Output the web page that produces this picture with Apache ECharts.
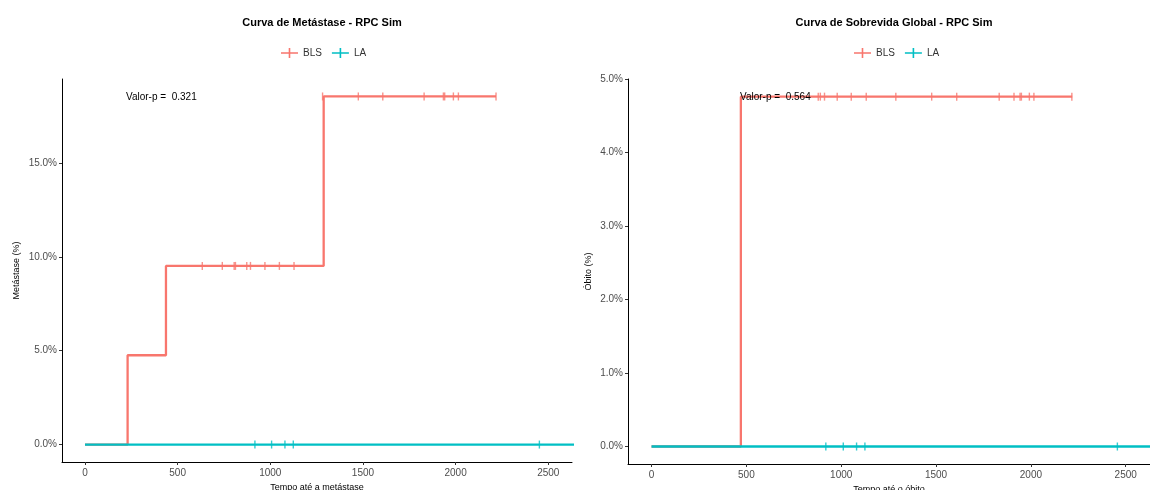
<!DOCTYPE html>
<html>
<head>
<meta charset="utf-8">
<script src="https://cdn.jsdelivr.net/npm/echarts@6/dist/echarts.min.js"></script>
<style>html,body{margin:0;padding:0;background:#fff}#c{width:1150px;height:490px}</style>
</head>
<body>
<div id="c"></div>
<script>
// ---- Data (times in days, values in %) ----
var xTicks = [0, 500, 1000, 1500, 2000, 2500];
var metYTicks = [0, 5, 10, 15];
var osYTicks = [0, 1, 2, 3, 4, 5];

// Metástase
var metBlsTimes = [0, 230, 437, 1288, 2218];
var metBlsValues = [0, 4.76, 9.52, 18.55, 18.55];
var metBlsCensorTimes = [633, 741, 805, 812, 873, 893, 971, 1049, 1128, 1282, 1475, 1607, 1830, 1934, 1941, 1988, 2015, 2218];
var metBlsCensorValues = [9.52, 9.52, 9.52, 9.52, 9.52, 9.52, 9.52, 9.52, 9.52, 18.55, 18.55, 18.55, 18.55, 18.55, 18.55, 18.55, 18.55, 18.55];
var metLaTimes = [0, 2640];
var metLaValues = [0, 0];
var metLaCensorTimes = [917, 1007, 1079, 1124, 2452];

// Sobrevida global
var osBlsTimes = [0, 471, 2218];
var osBlsValues = [0, 4.76, 4.76];
var osBlsCensorTimes = [879, 890, 912, 979, 1053, 1132, 1288, 1477, 1609, 1833, 1911, 1943, 1950, 1992, 2016, 2216];
var osLaTimes = [0, 2640];
var osLaValues = [0, 0];
var osLaCensorTimes = [919, 1011, 1081, 1125, 2456];

var pMet = 'Valor-p =  0.321';
var pOs = 'Valor-p =  0.564';

var RED = '#F8766D', TEAL = '#00BFC4';

function stepPts(times, vals) {
  var out = [];
  for (var i = 0; i < times.length; i++) {
    if (i > 0) out.push([times[i], vals[i - 1]]);
    out.push([times[i], vals[i]]);
  }
  return out;
}
function censorPts(times, vals, constVal) {
  return times.map(function (t, i) { return [t, vals ? vals[i] : constVal]; });
}

var plusIcon = 'path://M0,4.2 L17,4.2 L17,5.8 L0,5.8 Z M7.7,0 L9.3,0 L9.3,10 L7.7,10 Z';

function xAxisCfg(gi, name) {
  return {
    type: 'value', gridIndex: gi, min: -124, max: 2628,
    name: name, nameLocation: 'middle', nameGap: 19,
    nameTextStyle: { fontFamily: 'Liberation Sans', fontSize: 9, color: '#000' },
    splitLine: { show: false },
    axisLine: { show: true, onZero: false, lineStyle: { color: '#000', width: 1 } },
    axisTick: { show: true, length: 3, lineStyle: { color: '#333' }, customValues: xTicks },
    axisLabel: { fontFamily: 'Liberation Sans', fontSize: 10, color: '#4D4D4D', margin: 6, customValues: xTicks,
      formatter: function (v) { return String(v); } }
  };
}
function yAxisCfg(gi, name, min, max, ticks, gap) {
  return {
    type: 'value', gridIndex: gi, min: min, max: max,
    name: name, nameLocation: 'middle', nameGap: gap,
    nameTextStyle: { fontFamily: 'Liberation Sans', fontSize: 9, color: '#000' },
    splitLine: { show: false },
    axisLine: { show: true, onZero: false, lineStyle: { color: '#000', width: 1 } },
    axisTick: { show: true, length: 3, lineStyle: { color: '#333' }, customValues: ticks },
    axisLabel: { fontFamily: 'Liberation Sans', fontSize: 10, color: '#4D4D4D', margin: 5,
      customValues: ticks, formatter: function (v) { return v.toFixed(1) + '%'; } }
  };
}
function lineS(name, gi, data, color, z) {
  return { name: name, type: 'line', xAxisIndex: gi, yAxisIndex: gi, data: data,
    showSymbol: false, symbol: 'none', lineStyle: { color: color, width: 2.3 }, itemStyle: { color: color },
    z: z, animation: false, clip: true };
}
function censS(name, gi, data, color, z) {
  return { name: name, type: 'scatter', xAxisIndex: gi, yAxisIndex: gi, data: data,
    symbol: 'rect', symbolSize: [1.4, 8], itemStyle: { color: color }, z: z, animation: false, silent: true };
}

var option = {
  backgroundColor: '#fff',
  animation: false,
  title: [
    { text: 'Curva de Metástase - RPC Sim', left: 317, top: 12, textAlign: 'center',
      textStyle: { fontFamily: 'Liberation Sans', fontSize: 11, fontWeight: 'bold', color: '#000' } },
    { text: 'Curva de Sobrevida Global - RPC Sim', left: 889, top: 12, textAlign: 'center',
      textStyle: { fontFamily: 'Liberation Sans', fontSize: 11, fontWeight: 'bold', color: '#000' } }
  ],
  legend: [
    { data: [{ name: 'BLS', icon: plusIcon }, { name: 'LA', icon: plusIcon }], left: 276, top: 43,
      itemWidth: 17, itemHeight: 10, itemGap: 10, textStyle: { fontFamily: 'Liberation Sans', fontSize: 10, color: '#333' } },
    { data: [{ name: 'BLS', icon: plusIcon }, { name: 'LA', icon: plusIcon }], left: 849, top: 43,
      itemWidth: 17, itemHeight: 10, itemGap: 10, textStyle: { fontFamily: 'Liberation Sans', fontSize: 10, color: '#333' } }
  ],
  grid: [
    { left: 62, top: 79, width: 510, height: 383, containLabel: false, outerBoundsMode: 'none' },
    { left: 628, top: 79, width: 522, height: 385, containLabel: false, outerBoundsMode: 'none' }
  ],
  xAxis: [xAxisCfg(0, 'Tempo até a metástase'), xAxisCfg(1, 'Tempo até o óbito')],
  yAxis: [
    yAxisCfg(0, 'Metástase (%)', -0.93, 19.48, metYTicks, 41),
    yAxisCfg(1, 'Óbito (%)', -0.238, 5.0, osYTicks, 35)
  ],
  series: [
    lineS('BLS', 0, stepPts(metBlsTimes, metBlsValues), RED, 2),
    censS('BLS', 0, censorPts(metBlsCensorTimes, metBlsCensorValues), RED, 3),
    lineS('LA', 0, stepPts(metLaTimes, metLaValues), TEAL, 4),
    censS('LA', 0, censorPts(metLaCensorTimes, null, 0), TEAL, 5),
    lineS('BLS', 1, stepPts(osBlsTimes, osBlsValues), RED, 2),
    censS('BLS', 1, censorPts(osBlsCensorTimes, null, 4.76), RED, 3),
    lineS('LA', 1, stepPts(osLaTimes, osLaValues), TEAL, 4),
    censS('LA', 1, censorPts(osLaCensorTimes, null, 0), TEAL, 5)
  ],
  graphic: [
    { type: 'text', left: 126, top: 92, z: 10,
      style: { text: pMet, font: '10px "Liberation Sans"', fill: '#000' } },
    { type: 'text', left: 740, top: 92, z: 10,
      style: { text: pOs, font: '10px "Liberation Sans"', fill: '#000' } }
  ]
};
var chart = echarts.init(document.getElementById('c'), null, { renderer: 'canvas' });
chart.setOption(option);
</script>
</body>
</html>
